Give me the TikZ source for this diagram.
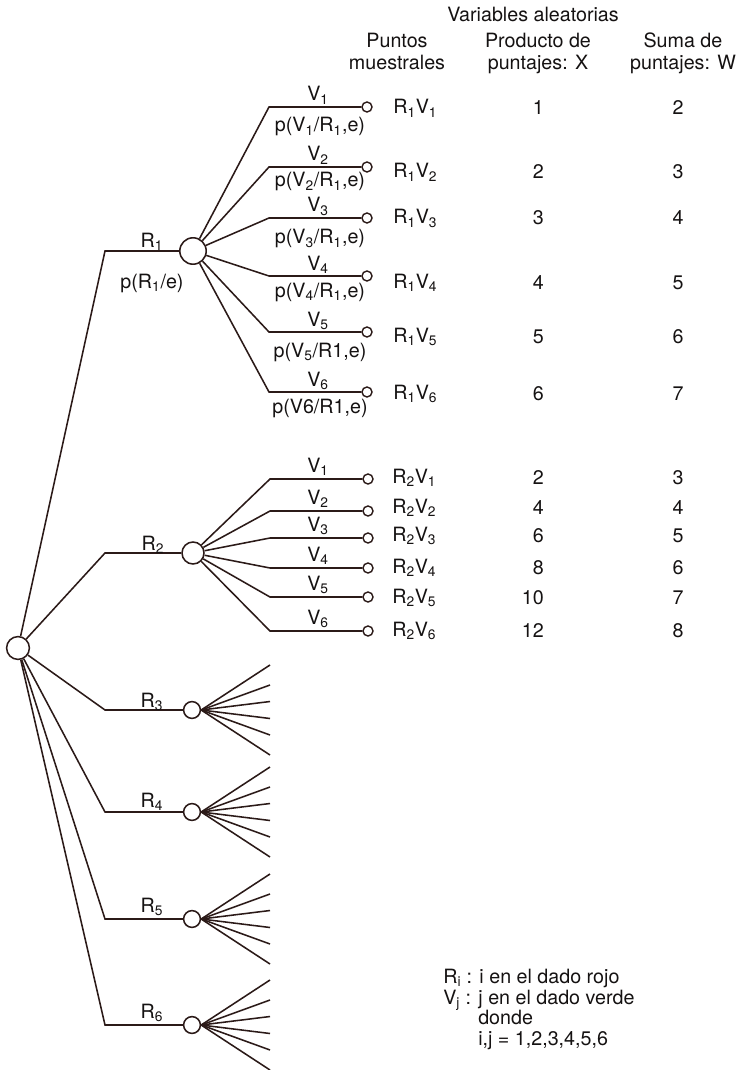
\documentclass[tikz,border=0pt]{standalone}
\usepackage{fontspec}
\setmainfont{TeX Gyre Heros}
\usetikzlibrary{positioning}
\definecolor{ink}{HTML}{2B1A18}
\definecolor{txt}{HTML}{151212}
\newcommand{\sbs}[1]{\textsubscript{#1}}

\begin{document}
\begin{tikzpicture}[x=0.025cm, y=-0.025cm,
  every node/.style={font=\fontsize{14}{15.6}\selectfont, text=txt, inner sep=0pt},
  branch/.style={draw=ink, line width=1.1pt},
  chance/.style={circle, draw=ink, line width=1.1pt, fill=white, minimum size=#1},
  chance/.default=0.42cm,
  leaf/.style={circle, draw=ink, line width=1pt, fill=white, minimum size=0.25cm},
  lab/.style={anchor=base}
]
  \useasboundingbox (0,0) rectangle (742,1070);

  % column heads
  \node[lab] (hva) at (533,22) {Variables aleatorias};
  \node[anchor=north, align=center] (hpm) at (397,33) {Puntos\\muestrales};
  \node[anchor=north, align=center] (hx) at (538,33) {Producto de\\puntajes: X};
  \node[anchor=north, align=center] (hw) at (683,33) {Suma de\\puntajes: W};

  % first die
  \node[chance=0.57cm] (root) at (18,648) {};

  \coordinate (k1) at (105,251);
  \node[chance=0.66cm] (r1) at (193,251) {};
  \draw[branch] (root) -- (k1) -- (r1);
  \node[lab] (l1) at (152,247) {R\sbs{1}};
  \node[lab] (pl1) at (152,288) {p(R\sbs{1}/e)};

  \coordinate (k2) at (105,553);
  \node[chance=0.55cm] (r2) at (193,553) {};
  \draw[branch] (root) -- (k2) -- (r2);
  \node[lab] (l2) at (153,550) {R\sbs{2}};

  % second die after R1
  \foreach \j/\yl/\yt/\yp/\pt [evaluate=\j as \w using int(\j+1)] in
    {1/107/108/132/{p(V\sbs{1}/R\sbs{1},e)},
     2/167/172/187/{p(V\sbs{2}/R\sbs{1},e)},
     3/218/218/244/{p(V\sbs{3}/R\sbs{1},e)},
     4/276/282/297/{p(V\sbs{4}/R\sbs{1},e)},
     5/332/336/357/{p(V\sbs{5}/R1,e)},
     6/392/393/413/{p(V6/R1,e)}} {
    \coordinate (c1\j) at (269,\yl);
    \node[leaf] (e1\j) at (367,\yl) {};
    \draw[branch] (r1) -- (c1\j) -- (e1\j);
    \node[lab] (v1\j) at (318,\yl-6) {V\sbs{\j}};
    \node[lab] (p1\j) at (320,\yp) {\pt};
    \node[anchor=base west] (s1\j) at (393,\yt+6) {R\sbs{1}V\sbs{\j}};
    \node[anchor=base east] (x1\j) at (544,\yt+7) {\j};
    \node[lab] (w1\j) at (678,\yt+7) {\w};
  }

  % second die after R2
  \foreach \j/\yl/\yt/\xv [evaluate=\j as \w using int(\j+2)] in
    {1/479/477/2, 2/511/507/4, 3/538/535/6,
     4/568/567/8, 5/597/597/10, 6/631/630/12} {
    \coordinate (c2\j) at (270,\yl);
    \node[leaf] (e2\j) at (368,\yl) {};
    \draw[branch] (r2) -- (c2\j) -- (e2\j);
    \node[lab] (v2\j) at (318,\yl-7) {V\sbs{\j}};
    \node[anchor=base west] (s2\j) at (392,\yt+6) {R\sbs{2}V\sbs{\j}};
    \node[anchor=base east] (x2\j) at (544,\yt+7) {\xv};
    \node[lab] (w2\j) at (678,\yt+7) {\w};
  }

  % remaining faces, fans only
  \foreach \i/\y/\yb in {3/710/707, 4/812/807, 5/919/912, 6/1025/1018} {
    \coordinate (k\i) at (105,\y);
    \node[chance] (r\i) at (192,\y) {};
    \draw[branch] (root) -- (k\i) -- (r\i);
    \node[lab] (l\i) at (152,\yb) {R\sbs{\i}};
    \foreach \d [count=\n] in {-45,-25,-8.5,8.5,25,45} {
      \coordinate (f\i\n) at (270,\y+\d);
      \draw[branch] (r\i.east) -- (f\i\n);
    }
  }

  % key
  \node[anchor=north west, align=left, font=\fontsize{14}{14.6}\selectfont] (key) at (443,969)
    {R\sbs{i} : i en el dado rojo\\
     V\sbs{j} : j en el dado verde\\
     \hspace*{0.875cm}donde\\
     \hspace*{0.875cm}i,j = 1,2,3,4,5,6};
\end{tikzpicture}
\end{document}
